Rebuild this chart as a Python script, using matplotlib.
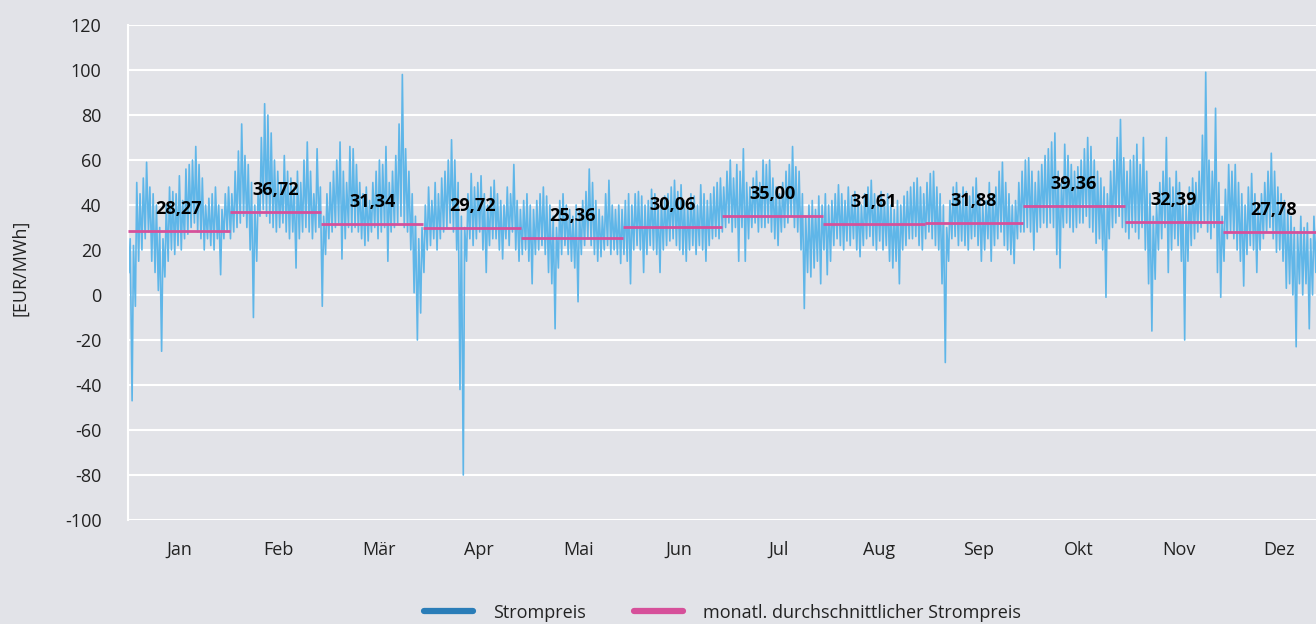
import matplotlib
matplotlib.use("Agg")
import matplotlib.pyplot as plt
from matplotlib.lines import Line2D
import numpy as np

plt.rcParams['font.family'] = ['Open Sans', 'DejaVu Sans']
plt.rcParams['axes.unicode_minus'] = False

months = ["Jan", "Feb", "Mär", "Apr", "Mai", "Jun", "Jul", "Aug", "Sep", "Okt", "Nov", "Dez"]
month_days = [31, 28, 31, 30, 31, 30, 31, 31, 30, 31, 30, 31]
monthly_mean = [28.27, 36.72, 31.34, 29.72, 25.36, 30.06, 35.00, 31.61, 31.88, 39.36, 32.39, 27.78]

# daily high / low of the hourly price (EUR/MWh)
jan_hi = [25, 22, 50, 45, 52, 59, 48, 45, 40, 30, 25, 40, 48, 46, 45, 53, 42, 56, 58, 60, 66, 58, 52, 40, 43, 45, 48, 40, 38, 45, 48]
jan_lo = [10, -47, -5, 15, 20, 25, 28, 15, 10, 2, -25, 8, 15, 20, 18, 22, 20, 25, 27, 30, 32, 28, 25, 20, 25, 22, 20, 25, 9, 25, 28]
feb_hi = [45, 55, 64, 76, 62, 58, 50, 40, 45, 70, 85, 80, 72, 60, 55, 50, 62, 55, 52, 48, 55, 50, 60, 68, 55, 45, 65, 48]
feb_lo = [25, 28, 30, 32, 35, 30, 20, -10, 15, 35, 38, 35, 32, 30, 28, 30, 32, 28, 25, 28, 12, 25, 28, 30, 28, 25, 28, 30]
mar_hi = [35, 45, 50, 55, 60, 68, 55, 50, 66, 65, 58, 50, 45, 48, 42, 50, 55, 60, 58, 66, 50, 55, 62, 76, 98, 65, 55, 45, 35, 25, 30]
mar_lo = [-5, 18, 25, 28, 30, 32, 16, 25, 30, 28, 30, 28, 25, 22, 24, 28, 30, 25, 28, 30, 15, 28, 30, 32, 35, 30, 28, 20, 1, -20, -8]
apr_hi = [40, 48, 42, 50, 45, 52, 55, 60, 69, 60, 50, 35, 30, 45, 54, 48, 50, 53, 45, 40, 48, 51, 45, 42, 40, 48, 45, 58, 42, 38]
apr_lo = [10, 20, 22, 25, 20, 25, 28, 30, 32, 28, 20, -42, -80, 15, 25, 22, 25, 28, 20, 10, 22, 25, 25, 20, 16, 25, 22, 28, 20, 15]
mai_hi = [42, 45, 40, 38, 42, 45, 48, 44, 40, 35, 30, 42, 45, 40, 38, 35, 40, 38, 42, 46, 56, 50, 42, 38, 35, 45, 51, 40, 38, 40, 38]
mai_lo = [18, 20, 15, 5, 18, 20, 22, 18, 10, 5, -15, 12, 18, 22, 18, 15, 12, -3, 18, 22, 25, 22, 18, 15, 17, 20, 22, 18, 20, 18, 14]
jun_hi = [42, 45, 40, 45, 46, 44, 40, 42, 47, 45, 40, 42, 44, 45, 48, 51, 46, 49, 42, 40, 45, 44, 40, 49, 45, 42, 45, 48, 50, 52]
jun_lo = [18, 15, 5, 20, 22, 20, 10, 18, 22, 20, 18, 10, 20, 22, 24, 25, 22, 20, 18, 15, 20, 22, 18, 22, 20, 15, 22, 25, 26, 25]
jul_hi = [48, 55, 60, 52, 58, 55, 65, 50, 48, 52, 55, 50, 60, 58, 60, 52, 48, 45, 50, 55, 58, 66, 57, 55, 45, 35, 40, 42, 38, 44, 40]
jul_lo = [28, 30, 32, 28, 30, 15, 30, 15, 25, 30, 32, 28, 30, 30, 32, 28, 25, 22, 28, 30, 32, 35, 30, 28, 20, -6, 10, 8, 12, 15, 5]
aug_hi = [45, 40, 42, 45, 49, 45, 42, 48, 44, 46, 42, 40, 45, 48, 51, 45, 44, 46, 42, 45, 40, 38, 42, 40, 44, 46, 48, 50, 52, 48, 45]
aug_lo = [20, 9, 15, 22, 25, 22, 20, 24, 22, 25, 20, 17, 22, 25, 26, 22, 20, 24, 20, 22, 15, 12, 15, 5, 20, 22, 25, 25, 26, 22, 20]
sep_hi = [50, 54, 55, 48, 45, 40, 30, 42, 48, 50, 45, 48, 46, 44, 48, 52, 45, 40, 42, 50, 45, 48, 55, 59, 50, 45, 40, 42, 50, 55]
sep_lo = [25, 28, 25, 22, 20, 5, -30, 15, 25, 26, 22, 24, 22, 20, 25, 26, 22, 15, 20, 25, 15, 22, 25, 28, 22, 20, 18, 14, 25, 28]
okt_hi = [60, 61, 55, 50, 55, 58, 62, 65, 68, 72, 55, 50, 67, 62, 58, 55, 57, 60, 65, 70, 66, 60, 55, 52, 48, 45, 55, 60, 70, 78, 61]
okt_lo = [28, 30, 28, 20, 28, 30, 32, 30, 32, 30, 18, 12, 30, 32, 30, 28, 30, 32, 32, 35, 30, 28, 23, 25, 20, -1, 25, 30, 32, 35, 30]
nov_hi = [55, 60, 62, 67, 58, 70, 55, 45, 35, 40, 50, 55, 70, 52, 48, 55, 50, 45, 40, 48, 52, 50, 55, 71, 99, 60, 55, 83, 50, 35]
nov_lo = [28, 25, 30, 28, 25, 30, 20, 5, -16, 7, 20, 25, 30, 10, 20, 25, 22, 15, -20, 15, 22, 25, 28, 30, 32, 28, 25, 30, 10, -1]
dez_hi = [47, 58, 55, 58, 50, 45, 40, 48, 54, 45, 40, 45, 50, 55, 63, 55, 48, 45, 42, 38, 35, 30, 28, 35, 30, 32, 25, 35, 38, 42, 40]
dez_lo = [15, 25, 28, 25, 20, 15, 4, 18, 22, 20, 10, 20, 25, 28, 30, 25, 19, 20, 15, 3, 5, 0, -23, 5, 0, 5, -15, 0, 10, 15, 20]

hi = (jan_hi + feb_hi + mar_hi + apr_hi + mai_hi + jun_hi
      + jul_hi + aug_hi + sep_hi + okt_hi + nov_hi + dez_hi)
lo = (jan_lo + feb_lo + mar_lo + apr_lo + mai_lo + jun_lo
      + jul_lo + aug_lo + sep_lo + okt_lo + nov_lo + dez_lo)

bg = '#e2e3e8'
blue = '#5fb6e8'
pink = '#d6509a'

# hour-of-year positions, one low and one high per day
day_start = np.arange(len(hi)) * 24
x = np.column_stack([day_start + 6, day_start + 16]).ravel()
y = np.column_stack([lo, hi]).ravel()

fig = plt.figure(figsize=(13.16, 6.24), dpi=100, facecolor=bg)
ax = fig.add_axes([128 / 1316, 1 - 520 / 624, 1 - 128 / 1316, 495 / 624])
ax.set_facecolor(bg)

ax.plot(x, y, color=blue, lw=1.2, zorder=2)

edges = np.concatenate([[0], np.cumsum(month_days)]) * 24
for i, m in enumerate(monthly_mean):
    ax.hlines(m, edges[i], edges[i + 1], color=pink, lw=2, zorder=3)
    mid = (edges[i] + edges[i + 1]) / 2
    ax.annotate(f"{m:.2f}".replace('.', ','), (mid, m), xytext=(0, 16),
                textcoords='offset points', ha='center', va='center',
                fontsize=13, fontweight='bold', color='black', zorder=4)

ax.set_ylim(-100, 120)
ax.set_yticks(np.arange(-100, 121, 20))
ax.set_xlim(0, 362.3 * 24)
ax.set_xticks((15.5 + 30.5 * np.arange(12)) * 24)
ax.set_xticklabels(months)

ax.grid(axis='y', color='white', lw=1.5)
ax.set_axisbelow(True)
for s in ['top', 'right', 'bottom']:
    ax.spines[s].set_visible(False)
ax.spines['left'].set_color('white')
ax.spines['left'].set_linewidth(1.5)
ax.tick_params(axis='both', length=0, labelsize=13, colors='#222222')
ax.tick_params(axis='y', pad=19)
ax.tick_params(axis='x', pad=15)

fig.text(20 / 1316, 1 - 268 / 624, '[EUR/MWh]', rotation=90, ha='center', va='center',
         fontsize=13, color='#222222')

handles = [Line2D([], [], color='#2a7db8', lw=4.5, solid_capstyle='round'),
           Line2D([], [], color=pink, lw=4.5, solid_capstyle='round')]
fig.legend(handles, ['Strompreis', 'monatl. durchschnittlicher Strompreis'],
           loc='center', bbox_to_anchor=(0.549, 0.018), ncol=2, frameon=False,
           fontsize=13, handlelength=2.7, handletextpad=1.1, columnspacing=2.7,
           labelcolor='#222222')

fig.savefig('out.png', dpi=100, facecolor=bg)
